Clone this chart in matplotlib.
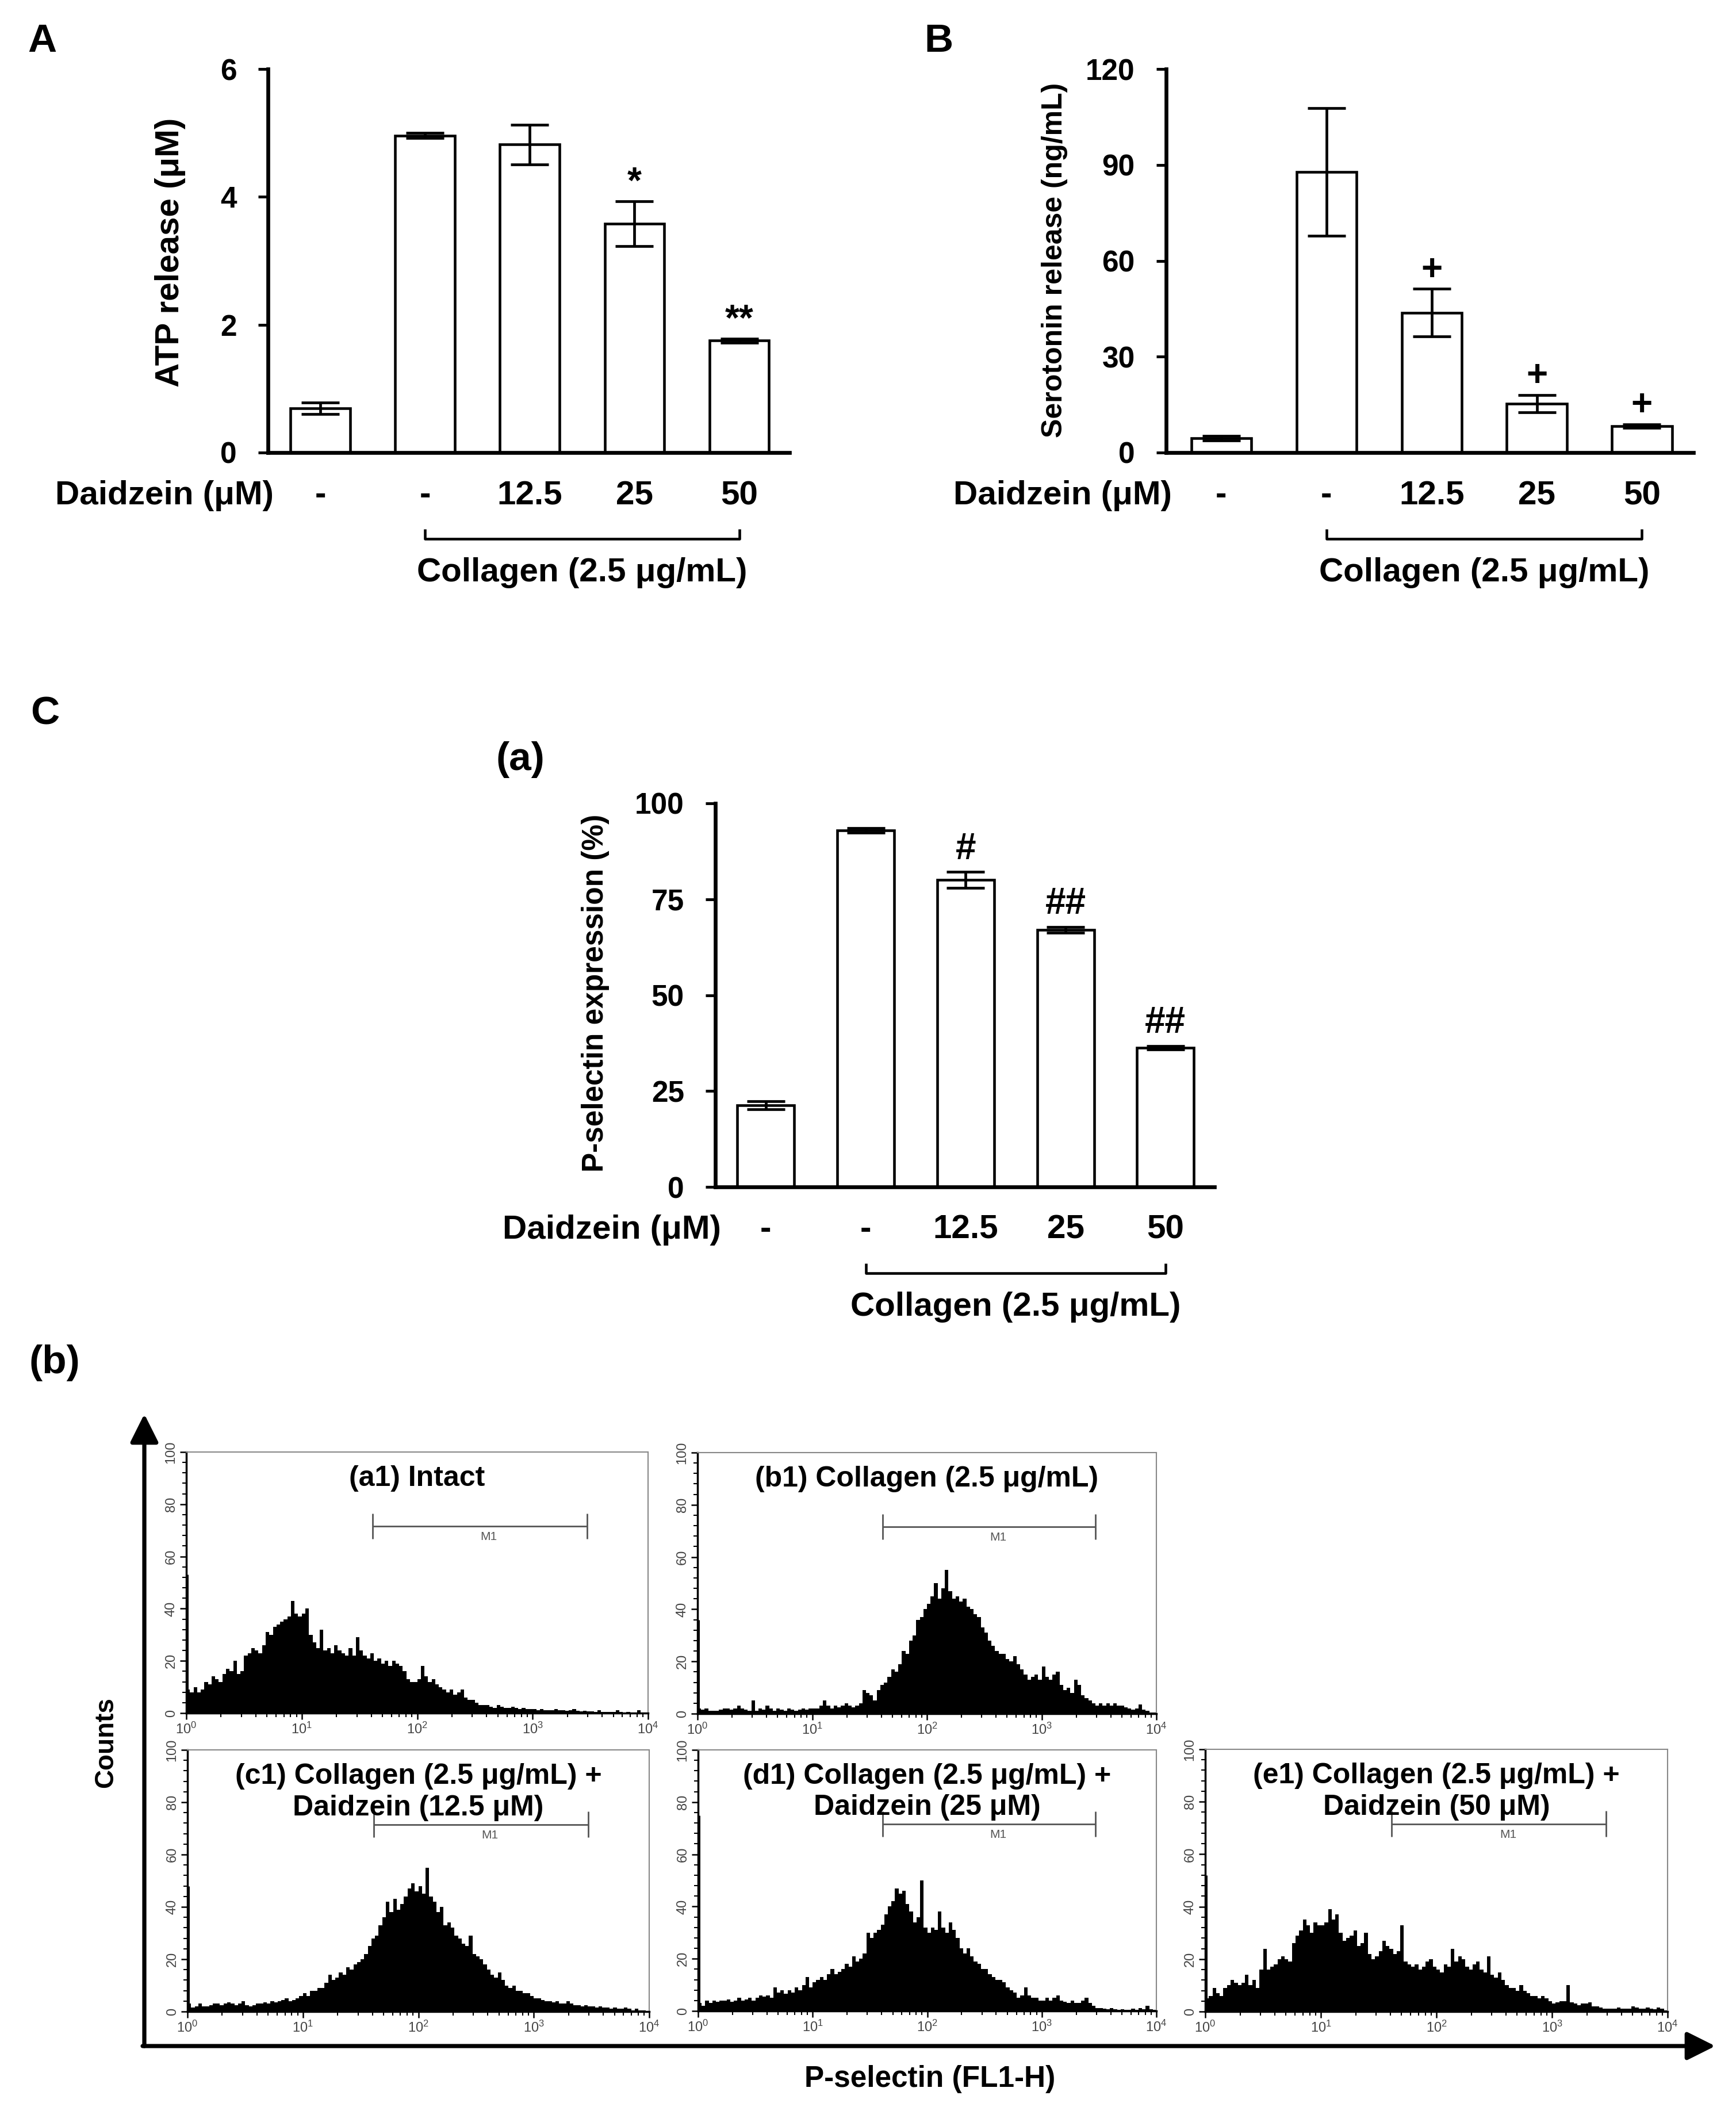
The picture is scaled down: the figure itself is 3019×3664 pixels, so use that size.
import numpy as np
import matplotlib
matplotlib.use('Agg')
import matplotlib.pyplot as plt
import matplotlib.transforms as mtransforms
from matplotlib.patches import FancyArrowPatch
from matplotlib.ticker import MultipleLocator, LogLocator, NullFormatter

plt.rcParams['font.family'] = ['Liberation Sans', 'DejaVu Sans']
plt.rcParams['mathtext.fontset'] = 'custom'
plt.rcParams['mathtext.rm'] = 'Liberation Sans'

# ---- bar chart data ----
dose_labels = ['-', '-', '12.5', '25', '50']

atp_mean = [0.69, 4.96, 4.82, 3.58, 1.75]
atp_err = [0.09, 0.04, 0.31, 0.35, 0.03]
atp_sig = ['', '', '', '*', '**']

sero_mean = [4.5, 87.8, 43.8, 15.3, 8.3]
sero_err = [0.7, 20.0, 7.4, 2.7, 0.6]
sero_sig = ['', '', '+', '+', '+']

psel_mean = [21.3, 92.9, 80.0, 67.0, 36.3]
psel_err = [1.0, 0.6, 2.1, 0.8, 0.5]
psel_sig = ['', '', '#', '##', '##']

# ---- flow cytometry histograms (counts, 32 bins per decade, 10^0..10^4) ----
hist_a1 = [9, 8, 10, 8, 9, 12, 11, 14, 13, 12, 15, 17, 16, 20, 15, 16, 22, 23, 25, 24, 23, 26, 31, 30, 33, 34, 35, 36, 37, 43, 38, 37,
           38, 40, 30, 27, 25, 32, 24, 25, 23, 26, 24, 23, 22, 25, 22, 29, 24, 22, 21, 23, 20, 21, 19, 20, 18, 20, 19, 18, 16, 13, 12, 12,
           13, 18, 14, 12, 13, 11, 10, 9, 8, 9, 7, 8, 9, 6, 5, 5, 4, 3, 3, 3, 2.5, 2, 3, 2.5, 2, 2, 2.5, 2, 1.5, 2, 1.5, 1.5,
           1.5, 1, 1.5, 1, 1, 1.2, 1.5, 1, 1, 0.8, 1, 1.5, 0.8, 0.7, 0.8, 0.6, 0.6, 0.5, 1, 0.5, 0.4, 0.5, 0.4, 1.2, 0.4, 0.3, 0.4, 0.3, 0.3, 1, 0.3, 0.3]
hist_b1 = [2, 1.5, 2, 1, 1, 1, 1.5, 2, 2, 1.5, 2, 3, 2, 1.5, 1, 5, 1, 2, 1.5, 3, 2, 1, 2, 1.5, 1, 2, 1.5, 1, 1.5, 2, 1.5, 2,
           2, 2, 3, 5, 3, 2, 3, 2.5, 3, 4, 3, 2.5, 3, 4, 9, 8, 7, 5, 9, 11, 12, 14, 17, 16, 19, 24, 23, 28, 30, 36, 37, 40,
           42, 45, 50, 44, 48, 55, 47, 44, 45, 43, 44, 41, 40, 38, 37, 33, 31, 28, 26, 24, 23, 23, 21, 20, 22, 19, 17, 15, 13, 14, 15, 13,
           18, 14, 13, 15, 16, 11, 9, 10, 8, 13, 11, 7, 6, 5, 4, 3, 4, 3, 4, 3, 4, 3, 3, 2.5, 2, 1.5, 2, 3.5, 1.5, 1, 0.5, 0.5]
hist_c1 = [3, 1.5, 2, 3, 2, 2, 2.5, 3, 3, 2.5, 3, 3.5, 3, 2.5, 3, 4, 2.5, 2, 2.5, 3, 3, 3.5, 3, 4, 3.5, 4, 4.5, 5, 4, 4.5, 5, 6,
           7, 6, 8, 8, 9, 9, 11, 14, 12, 13, 15, 14, 17, 16, 18, 19, 20, 22, 25, 28, 29, 33, 36, 42, 38, 43, 39, 41, 44, 47, 49, 46,
           48, 45, 55, 44, 42, 38, 40, 33, 34, 32, 29, 28, 26, 25, 29, 22, 21, 20, 18, 16, 14, 13, 15, 12, 10, 9, 10, 8, 8, 7, 7, 6,
           5, 5, 4.5, 4, 4, 3.5, 4, 3, 3, 4, 3, 2.5, 2.5, 2, 2.5, 2, 2, 1.5, 2, 1.5, 1.5, 1, 1.5, 1, 1, 1.5, 1, 0.5, 1, 0.5, 0.5, 0.3]
hist_d1 = [3, 2, 4, 3, 4, 3.5, 4, 4, 4.5, 3.5, 4, 5, 4, 4.5, 5, 4, 5, 6, 5.5, 6, 5, 9, 7, 8, 6.5, 8, 7, 9, 8, 10, 13, 9,
           11, 12, 13, 12, 14, 16, 14, 15, 16, 18, 17, 21, 19, 20, 22, 30, 28, 30, 31, 33, 37, 40, 42, 47, 45, 46, 41, 38, 34, 36, 50, 32,
           30, 32, 31, 38, 32, 30, 34, 31, 28, 24, 22, 24, 21, 19, 18, 16, 16, 14, 13, 12, 12, 11, 9, 8, 7, 5, 6, 9, 6, 5, 5, 4,
           4, 5, 4, 5, 6, 4, 3.5, 3, 4, 3, 3, 4, 5, 3, 2, 1, 1, 0.8, 0.7, 1, 0.6, 0.5, 0.7, 0.5, 0.5, 0.8, 0.5, 1, 0.6, 2, 0.7, 0.5]
hist_e1 = [5, 6, 9, 7, 6, 9, 10, 12, 11, 10, 11, 14, 10, 12, 9, 16, 24, 16, 17, 18, 20, 21, 20, 19, 26, 29, 31, 35, 33, 30, 34, 33,
           33, 34, 39, 35, 37, 30, 27, 28, 29, 31, 25, 26, 30, 22, 20, 21, 23, 27, 25, 24, 22, 23, 33, 19, 18, 17, 18, 16, 17, 19, 20, 17,
           16, 15, 18, 17, 24, 19, 21, 20, 17, 16, 18, 19, 16, 15, 21, 14, 13, 15, 12, 10, 9, 9, 8, 10, 8, 7, 6, 6, 5, 6, 5, 4,
           3, 3.5, 4, 4, 10, 3.5, 3, 2.5, 3, 3, 3.5, 2, 2, 1.5, 1, 1, 1, 1, 1.5, 1, 1, 1, 2, 1.5, 1, 1, 1.5, 1, 0.8, 1.5, 1, 0.5]
first_channel = [53, 36, 48, 75, 52]
m1_gate = [41, 2950]

hist_titles = [['(a1) Intact'],
               ['(b1) Collagen (2.5 \u03bcg/mL)'],
               ['(c1) Collagen (2.5 \u03bcg/mL) +', 'Daidzein (12.5 \u03bcM)'],
               ['(d1) Collagen (2.5 \u03bcg/mL) +', 'Daidzein (25 \u03bcM)'],
               ['(e1) Collagen (2.5 \u03bcg/mL) +', 'Daidzein (50 \u03bcM)']]

W, H = 3019, 3664
fig = plt.figure(figsize=(W / 100, H / 100), dpi=100)


def rect(l, t, r, b):
    return [l / W, 1 - b / H, (r - l) / W, (b - t) / H]


def fy(py):
    return 1 - py / H


def bar_panel(ax, means, errs, sig, ymax, ystep, xlim, sig_pad):
    x = np.arange(len(means))
    ax.bar(x, means, width=0.57, color='white', edgecolor='black', linewidth=3.3, zorder=2)
    ax.errorbar(x, means, yerr=errs, fmt='none', ecolor='black', elinewidth=3.4,
                capsize=24, capthick=3.4, zorder=3)
    for xi, m, e, s in zip(x, means, errs, sig):
        if s:
            ax.annotate(s, (xi, m + e), xytext=(0, sig_pad), textcoords='offset points',
                        ha='center', va='bottom', fontsize=46, fontweight='bold')
    ax.set_xlim(*xlim)
    ax.set_ylim(0, ymax)
    ticks = np.arange(0, ymax + ystep / 2, ystep)
    ax.set_yticks(ticks, labels=[f'{t:g}' for t in ticks], fontsize=37, fontweight='bold')
    ax.set_xticks([])
    ax.tick_params(axis='y', direction='out', length=12, width=3.5, pad=27)
    for side in ['top', 'right']:
        ax.spines[side].set_visible(False)
    for side in ['left', 'bottom']:
        ax.spines[side].set_linewidth(4.8)

    # treatment rows under the axis
    bottom_px = (1 - ax.get_position().y0) * H
    trans = mtransforms.blended_transform_factory(ax.transData, fig.transFigure)
    for xi, lab in zip(x, dose_labels):
        ax.text(xi, fy(bottom_px + 90), lab, transform=trans, ha='center', va='baseline',
                fontsize=42, fontweight='bold')
    ax.text(0.011, fy(bottom_px + 90), 'Daidzein (\u03bcM)',
            transform=mtransforms.blended_transform_factory(ax.transAxes, fig.transFigure),
            ha='right', va='baseline', fontsize=42, fontweight='bold')
    yb = fy(bottom_px + 150)
    dy = 17 / H
    ax.plot([x[1], x[1], x[-1], x[-1]], [yb + dy, yb, yb, yb + dy], transform=trans,
            color='black', lw=3.3, clip_on=False, solid_capstyle='butt')
    ax.text((x[1] + x[-1]) / 2, fy(bottom_px + 224), 'Collagen (2.5 \u03bcg/mL)', transform=trans,
            ha='center', va='baseline', fontsize=42, fontweight='bold')


axA = fig.add_axes(rect(466, 120, 1373, 787))
bar_panel(axA, atp_mean, atp_err, atp_sig, 6, 2, (-0.5, 4.48), 1)
axB = fig.add_axes(rect(2028, 120, 2945, 787))
bar_panel(axB, sero_mean, sero_err, sero_sig, 120, 30, (-0.525, 4.49), 2)
axC = fig.add_axes(rect(1244, 1397, 2112, 2064))
bar_panel(axC, psel_mean, psel_err, psel_sig, 100, 25, (-0.506, 4.49), 7)

fig.text(296 / W, fy(439), 'ATP release (\u03bcM)', rotation=90, ha='center', va='center',
         fontsize=42, fontweight='bold')
fig.text(1834 / W, fy(452), 'Serotonin release (ng/mL)', rotation=90, ha='center', va='center',
         fontsize=36, fontweight='bold')
fig.text(1035 / W, fy(1727), 'P-selectin expression (%)', rotation=90, ha='center', va='center',
         fontsize=37, fontweight='bold')

for lab, px, py in [('A', 48, 90), ('B', 1607, 90), ('C', 53, 1259), ('(a)', 863, 1339), ('(b)', 51, 2388)]:
    fig.text(px / W, fy(py), lab, ha='left', va='baseline', fontsize=50, fontweight='bold')

# ---- histograms ----
edges = np.logspace(0, 4, 129)
hist_data = [hist_a1, hist_b1, hist_c1, hist_d1, hist_e1]
hist_rects = [rect(324, 2525, 1127, 2979), rect(1213, 2526, 2011, 2980),
              rect(326, 3043, 1129, 3498), rect(1214, 3043, 2011, 3497),
              rect(2096, 3042, 2900, 3498)]

for counts, spike, titles, r in zip(hist_data, first_channel, hist_titles, hist_rects):
    ax = fig.add_axes(r)
    ax.set_xscale('log')
    ax.stairs(counts, edges, fill=True, color='black', lw=0)
    ax.vlines(edges[0], 0, spike, color='black', lw=5)
    ax.set_xlim(1, 1e4)
    ax.set_ylim(0, 100)
    ax.yaxis.set_major_locator(MultipleLocator(20))
    ax.yaxis.set_minor_locator(MultipleLocator(4))
    ax.xaxis.set_major_locator(LogLocator(base=10, numticks=10))
    ax.xaxis.set_minor_locator(LogLocator(base=10, subs=np.arange(2, 10), numticks=10))
    ax.xaxis.set_minor_formatter(NullFormatter())
    ax.tick_params(axis='both', which='major', length=8, width=1.8, labelsize=17,
                   labelcolor='#444444', color='black')
    ax.tick_params(axis='both', which='minor', length=5, width=1.5, color='black')
    ax.tick_params(axis='y', which='major', labelrotation=90, pad=3)
    ax.tick_params(axis='x', which='major', pad=3)
    for lab in ax.get_yticklabels():
        lab.set_va('center')
    for side in ['left', 'bottom']:
        ax.spines[side].set_linewidth(2.5)
    for side in ['top', 'right']:
        ax.spines[side].set_linewidth(1.5)
        ax.spines[side].set_color('#888888')

    # M1 gate marker
    ax.hlines(71.5, m1_gate[0], m1_gate[1], color='#555555', lw=2)
    ax.vlines(m1_gate, 66.7, 76.5, color='#555555', lw=2)
    ax.text(np.sqrt(m1_gate[0] * m1_gate[1]) * 1.2, 69.5, 'M1', ha='center', va='top',
            fontsize=15, color='#555555')

    ax.text(0.5, 0.87, titles[0], transform=ax.transAxes, ha='center', va='baseline',
            fontsize=36, fontweight='bold', zorder=5)
    if len(titles) > 1:
        ax.text(0.5, 0.75, titles[1], transform=ax.transAxes, ha='center', va='baseline',
                fontsize=36, fontweight='bold', zorder=5)

# axis arrows for the histogram block
fig.add_artist(FancyArrowPatch((251 / W, fy(3558)), (251 / W, fy(2459)), transform=fig.transFigure,
                               arrowstyle='-|>,head_length=30,head_width=15', mutation_scale=1,
                               lw=5.2, color='black', shrinkA=0, shrinkB=0))
fig.add_artist(FancyArrowPatch((248 / W, fy(3558)), (2983 / W, fy(3558)), transform=fig.transFigure,
                               arrowstyle='-|>,head_length=30,head_width=15', mutation_scale=1,
                               lw=5.2, color='black', shrinkA=0, shrinkB=0))
fig.text(184 / W, fy(3030), 'Counts', rotation=90, ha='center', va='center', fontsize=33,
         fontweight='bold')
fig.text(1617 / W, fy(3615), 'P-selectin (FL1-H)', ha='center', va='center', fontsize=37,
         fontweight='bold')

fig.savefig('out.png', dpi=100, facecolor='white')
